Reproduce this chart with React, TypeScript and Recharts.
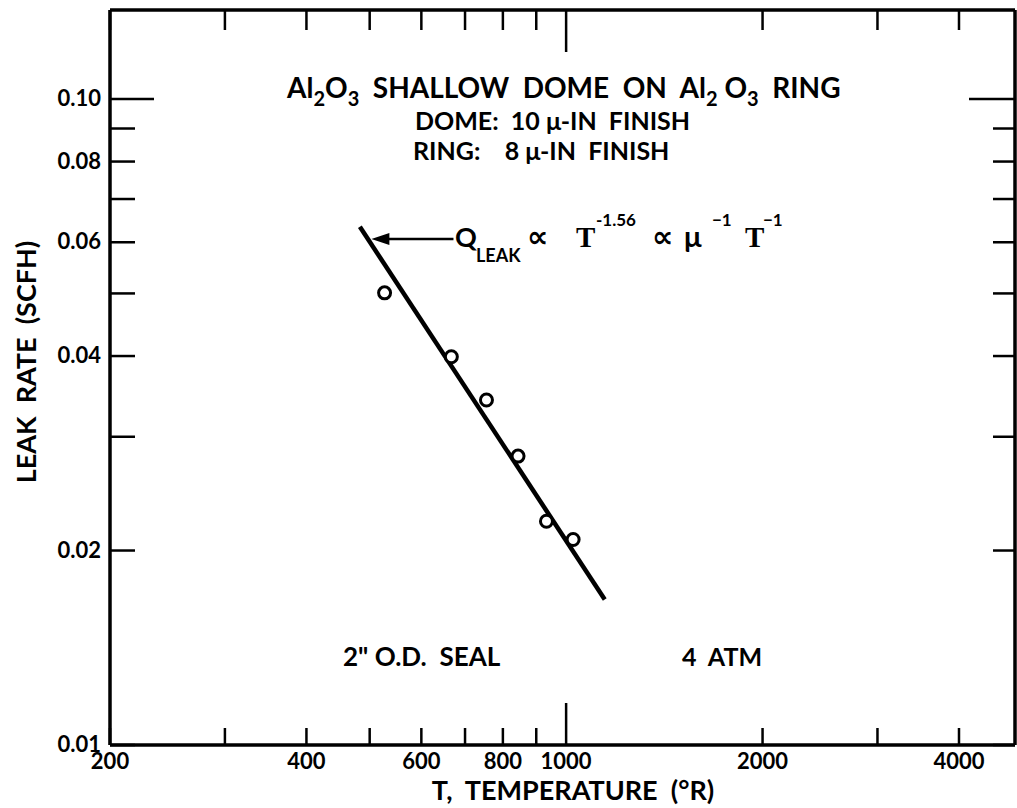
import React from 'react';
import { ScatterChart, Scatter, XAxis, YAxis, ReferenceLine } from 'recharts';

// measured data points (T in °R, leak rate in SCFH)
const pointT = [527, 667, 755, 844, 933, 1025];
const pointQ = [0.0501, 0.0399, 0.0342, 0.028, 0.0222, 0.0208];
// fitted line  Q ∝ T^-1.56
const fitT = [483, 1146];
const fitQ = [0.0634, 0.0168];
// arrow annotation pointing at the fitted line
const arrowT = [672, 503];
const arrowQ = [0.0607, 0.0607];

const xTicks = [200, 300, 400, 500, 600, 700, 800, 900, 1000, 2000, 3000, 4000];
const xLabeled = [200, 400, 600, 800, 1000, 2000, 4000];
const xMajor = [1000];
const yTicks = [0.01, 0.02, 0.03, 0.04, 0.05, 0.06, 0.07, 0.08, 0.09, 0.1];
const yLabeled = ['0.01', '0.02', '', '0.04', '', '0.06', '', '0.08', '', '0.10'];
const yMajor = [0.1];
const xDomain = [200, 4874];
const yDomain = [0.01, 0.1373];

const points = pointT.map((t, i) => ({ t, q: pointQ[i] }));
const fit = fitT.map((t, i) => ({ t, q: fitQ[i] }));

const FONT = 'Lato, "DejaVu Sans", sans-serif';
const SERIF = '"Liberation Serif", "DejaVu Serif", serif';

const BottomTick = (p: any) => {
  const v = p.payload.value;
  const len = xMajor.includes(v) ? 42 : 17;
  const label = xLabeled.includes(v) ? String(v) : '';
  return (
    <g>
      <line x1={p.x} y1={p.y} x2={p.x} y2={p.y - len} stroke="#000" strokeWidth={2.5} />
      {label && (
        <text x={p.x} y={p.y + 24} textAnchor="middle" fontFamily={FONT} fontWeight={700} fontSize={22} fill="#000">
          {label}
        </text>
      )}
    </g>
  );
};

const TopTick = (p: any) => {
  const v = p.payload.value;
  const len = xMajor.includes(v) ? 42 : 20;
  return <line x1={p.x} y1={p.y} x2={p.x} y2={p.y + len} stroke="#000" strokeWidth={2.5} />;
};

const LeftTick = (p: any) => {
  const v = p.payload.value;
  const idx = yTicks.findIndex((t) => Math.abs(t - v) < 1e-9);
  const len = yMajor.some((m) => Math.abs(m - v) < 1e-9) ? 44 : 25;
  const label = idx >= 0 ? yLabeled[idx] : '';
  return (
    <g>
      <line x1={p.x} y1={p.y} x2={p.x + len} y2={p.y} stroke="#000" strokeWidth={2.5} />
      {label && (
        <text x={p.x - 9} y={p.y + 7} textAnchor="end" fontFamily={FONT} fontWeight={700} fontSize={22} fill="#000">
          {label}
        </text>
      )}
    </g>
  );
};

const RightTick = (p: any) => {
  const v = p.payload.value;
  const len = yMajor.some((m) => Math.abs(m - v) < 1e-9) ? 46 : 22;
  return <line x1={p.x} y1={p.y} x2={p.x - len} y2={p.y} stroke="#000" strokeWidth={2.5} />;
};

const OpenCircle = (p: any) => (
  <circle cx={p.cx} cy={p.cy} r={6} fill="#fff" stroke="#000" strokeWidth={3} />
);

const NoShape = () => <g />;

const ArrowShape = (p: any) => {
  const { x1, y1, x2, y2 } = p;
  const dir = x2 < x1 ? 1 : -1;
  return (
    <g>
      <line x1={x1} y1={y1} x2={x2 + dir * 12} y2={y2} stroke="#000" strokeWidth={2.5} />
      <polygon
        points={`${x2},${y2} ${x2 + dir * 18},${y2 - 6} ${x2 + dir * 18},${y2 + 6}`}
        fill="#000"
      />
    </g>
  );
};

const txt = {
  fontFamily: FONT,
  fontWeight: 700,
  fill: '#000',
  whiteSpace: 'pre' as const,
};

export default function App() {
  return (
    <div style={{ position: 'absolute', left: 0, top: 0, width: 1017, height: 808, background: '#fff' }}>
      <ScatterChart width={1017} height={808} margin={{ top: 9, right: 1, bottom: 23, left: 30 }}>
        <XAxis
          xAxisId={0}
          type="number"
          dataKey="t"
          scale="log"
          domain={xDomain}
          allowDataOverflow
          ticks={xTicks}
          interval={0}
          height={40}
          tickSize={0}
          tickMargin={0}
          tickLine={false}
          axisLine={{ stroke: '#000', strokeWidth: 3.5 }}
          tick={<BottomTick />}
        />
        <XAxis
          xAxisId="top"
          orientation="top"
          type="number"
          dataKey="t"
          scale="log"
          domain={xDomain}
          allowDataOverflow
          ticks={xTicks}
          interval={0}
          height={1}
          tickSize={0}
          tickMargin={0}
          tickLine={false}
          axisLine={{ stroke: '#000', strokeWidth: 3.5 }}
          tick={<TopTick />}
        />
        <YAxis
          yAxisId={0}
          type="number"
          dataKey="q"
          scale="log"
          domain={yDomain}
          allowDataOverflow
          ticks={yTicks}
          interval={0}
          width={80}
          tickSize={0}
          tickMargin={0}
          tickLine={false}
          axisLine={{ stroke: '#000', strokeWidth: 3.5 }}
          tick={<LeftTick />}
        />
        <YAxis
          yAxisId="right"
          orientation="right"
          type="number"
          dataKey="q"
          scale="log"
          domain={yDomain}
          allowDataOverflow
          ticks={yTicks}
          interval={0}
          width={1}
          tickSize={0}
          tickMargin={0}
          tickLine={false}
          axisLine={{ stroke: '#000', strokeWidth: 3.5 }}
          tick={<RightTick />}
        />
        <Scatter
          data={fit}
          xAxisId={0}
          yAxisId={0}
          line={{ stroke: '#000', strokeWidth: 4.5 }}
          shape={NoShape}
          isAnimationActive={false}
        />
        <Scatter
          data={points}
          xAxisId={0}
          yAxisId={0}
          shape={OpenCircle}
          isAnimationActive={false}
        />
        <ReferenceLine
          xAxisId={0}
          yAxisId={0}
          segment={[
            { x: arrowT[0], y: arrowQ[0] },
            { x: arrowT[1], y: arrowQ[1] },
          ]}
          shape={ArrowShape}
          ifOverflow="visible"
        />
      </ScatterChart>
      <svg
        width={1017}
        height={808}
        style={{ position: 'absolute', left: 0, top: 0, pointerEvents: 'none' }}
      >
        {/* title block */}
        <text x={287} y={98} fontSize={28} style={txt}>
          <tspan>Al</tspan>
          <tspan fontSize={20} dy={8}>2</tspan>
          <tspan dy={-8}>O</tspan>
          <tspan fontSize={20} dy={8}>3</tspan>
          <tspan dy={-8}>{'  SHALLOW  DOME  ON  Al'}</tspan>
          <tspan fontSize={20} dy={8}>2</tspan>
          <tspan dy={-8}>{' O'}</tspan>
          <tspan fontSize={20} dy={8}>3</tspan>
          <tspan dy={-8}>{'  RING'}</tspan>
        </text>
        <text x={415} y={130} fontSize={25} style={txt}>
          {'DOME:  10 μ-IN  FINISH'}
        </text>
        <text x={413} y={160} fontSize={25} style={txt}>
          {'RING:    8 μ-IN  FINISH'}
        </text>
        {/* proportionality annotation */}
        <text x={455} y={247} fontSize={27} style={txt}>Q</text>
        <text x={476} y={262} fontSize={18} style={txt}>LEAK</text>
        <text x={527} y={247} fontSize={30} style={txt}>∝</text>
        <text x={576} y={247} fontSize={29} style={{ ...txt, fontFamily: SERIF }}>T</text>
        <text x={596} y={226} fontSize={17} style={txt}>-1.56</text>
        <text x={652} y={247} fontSize={30} style={txt}>∝</text>
        <text x={684} y={247} fontSize={29} style={txt}>μ</text>
        <text x={712} y={226} fontSize={17} style={txt}>−1</text>
        <text x={745} y={247} fontSize={29} style={{ ...txt, fontFamily: SERIF }}>T</text>
        <text x={763} y={226} fontSize={17} style={txt}>−1</text>
        <text x={343} y={666} fontSize={26} style={txt}>
          {'2" O.D.  SEAL'}
        </text>
        <text x={682} y={666} fontSize={25} style={txt}>
          {'4  ATM'}
        </text>
        {/* axis titles */}
        <text x={573} y={800} fontSize={27} textAnchor="middle" style={txt}>
          {'T,  TEMPERATURE  (°R)'}
        </text>
        <text
          x={36}
          y={362}
          fontSize={27}
          textAnchor="middle"
          transform="rotate(-90 36 362)"
          style={txt}
        >
          {'LEAK  RATE  (SCFH)'}
        </text>
      </svg>
    </div>
  );
}
